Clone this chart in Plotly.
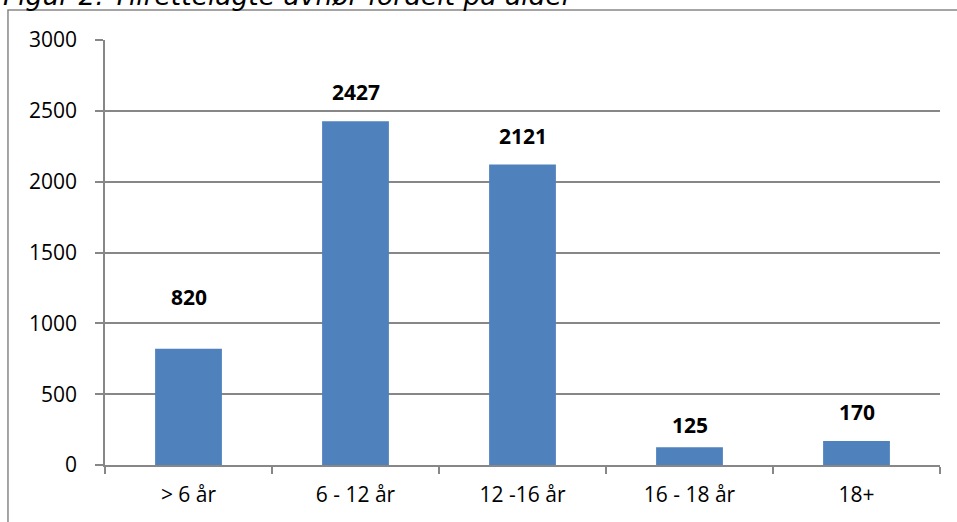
import plotly.graph_objects as go

categories = ["> 6 år", "6 - 12 år", "12 -16 år", "16 - 18 år", "18+"]
counts = [820, 2427, 2121, 125, 170]
title_text = "Figur 2: Tilrettelagte avhør fordelt på alder"
y_ticks = [0, 500, 1000, 1500, 2000, 2500, 3000]

# Excel put the labels at slightly uneven heights above the bars
label_shift = [52, 29, 29, 22, 29]

BAR_COLOR = "#4f81bd"
GRID_COLOR = "#878787"
FONT = "Open Sans, Noto Sans, sans-serif"

fig = go.Figure()
fig.add_trace(
    go.Bar(
        x=categories,
        y=counts,
        marker=dict(color=BAR_COLOR, line=dict(width=0)),
        width=0.4,
        hoverinfo="x+y",
    )
)

for cat, val, shift in zip(categories, counts, label_shift):
    fig.add_annotation(
        x=cat,
        y=val,
        text=f"<b>{val}</b>",
        showarrow=False,
        yshift=shift,
        font=dict(family=FONT, size=21, color="black"),
    )

# figure title, partly cut off at the top like the source
fig.add_annotation(
    x=-0.1245,
    y=1.064,
    xref="paper",
    yref="paper",
    xanchor="left",
    yanchor="bottom",
    text=f"<i>{title_text}</i>",
    showarrow=False,
    font=dict(family="DejaVu Sans, Verdana, sans-serif", size=26.5, color="black"),
)

# outer chart frame
fig.add_shape(
    type="rect",
    xref="paper",
    yref="paper",
    x0=-0.1162,
    x1=1.2,
    y0=-0.3,
    y1=1.0706,
    line=dict(color="#888888", width=1.5),
    layer="below",
)

fig.update_layout(
    width=957,
    height=522,
    margin=dict(l=105, r=17, t=40, b=57),
    paper_bgcolor="white",
    plot_bgcolor="white",
    showlegend=False,
    font=dict(family=FONT, size=21, color="black"),
    xaxis=dict(
        showline=True,
        linecolor=GRID_COLOR,
        linewidth=1.5,
        ticks="outside",
        tickson="boundaries",
        ticklen=7,
        tickcolor=GRID_COLOR,
        tickwidth=1.5,
        showgrid=False,
        ticklabelstandoff=10,
        tickfont=dict(size=21),
    ),
    yaxis=dict(
        range=[0, 3000],
        tickvals=y_ticks,
        showline=True,
        linecolor=GRID_COLOR,
        linewidth=1.5,
        ticks="outside",
        ticklen=8,
        tickcolor=GRID_COLOR,
        tickwidth=1.5,
        showgrid=True,
        gridcolor=GRID_COLOR,
        gridwidth=1.5,
        zeroline=False,
        ticklabelstandoff=14,
        tickfont=dict(size=21),
    ),
)

# the page is shot from its top-left corner, so drop the default body margin
fig.write_html(
    "out.html",
    config={"displayModeBar": False},
    post_script="document.body.style.margin = '0';",
)
